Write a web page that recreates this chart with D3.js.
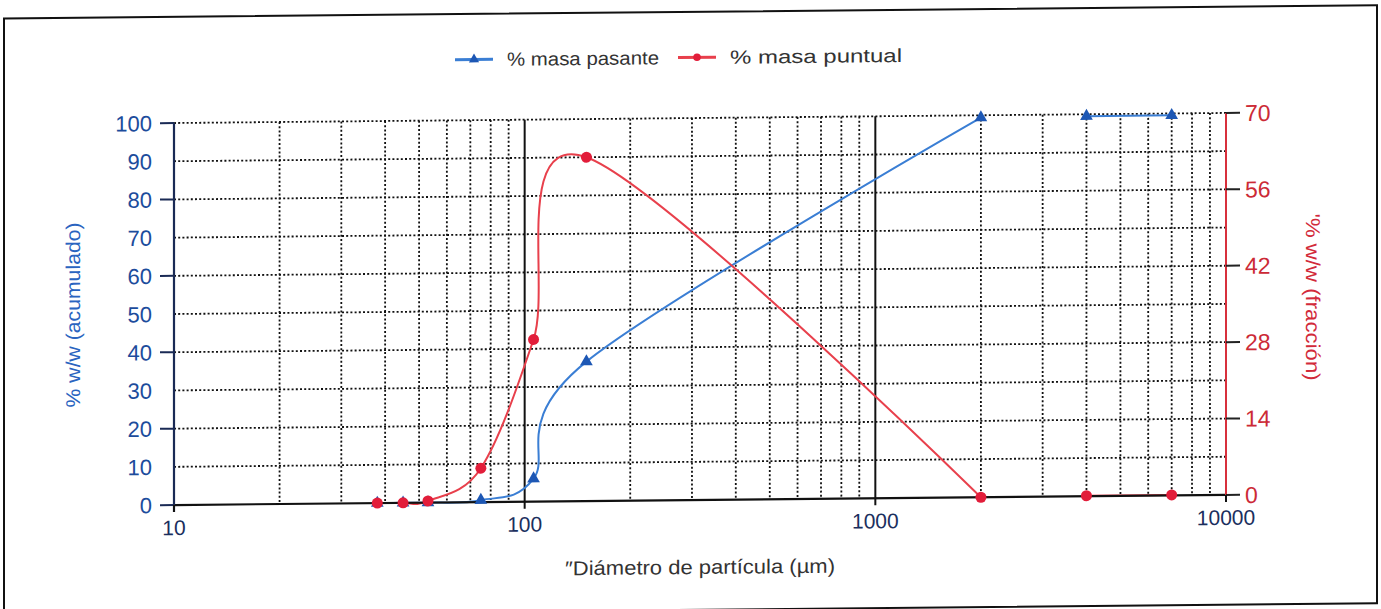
<!DOCTYPE html>
<html>
<head>
<meta charset="utf-8">
<script src="https://cdn.jsdelivr.net/npm/d3@7"></script>
<style>
  body { margin: 0; background: #fff; }
  text { font-family: "Liberation Sans", Arial, sans-serif; }
</style>
</head>
<body>
<div id="chart"></div>
<script>
// sieve sizes (µm) and the two series; null = missing sieve (gap in the lines)
var sizes   = [38, 45, 53, 75, 106, 150, 2000, 2800, 4000, 7000];
var pasante = [0, 0, 0, 0.5, 6, 36.5, 99.4, null, 99.5, 99.5];
var puntual = [0, 0, 0.3, 6.2, 29.7, 63, 0, null, 0.1, 0.1];

var leftTicks  = [0, 10, 20, 30, 40, 50, 60, 70, 80, 90, 100];
var rightTicks = [0, 14, 28, 42, 56, 70];
var xTicks     = [10, 100, 1000, 10000];
var xMinor     = [20, 30, 40, 50, 60, 70, 80, 90, 200, 300, 400, 500, 600, 700, 800, 900,
                  2000, 3000, 4000, 5000, 6000, 7000, 8000, 9000];

var svg_dx = 1381, svg_dy = 609,
    margin = {top: 124.7, left: 174, right: 155, bottom: 102.3},
    width = svg_dx - margin.left - margin.right,
    height = svg_dy - margin.top - margin.bottom;

var blueLine = "#3a7ed4", blueMark = "#1d57b4", blueText = "#1c4c9c",
    redLine = "#e8404c", redMark = "#e21d3a", redText = "#cc2a36";

var x = d3.scaleLog().domain([10, 10000]).range([0, width]);
var yL = d3.scaleLinear().domain([0, 100]).range([height, 0]);
var yR = d3.scaleLinear().domain([0, 70]).range([height, 0]);

var svg = d3.select("#chart").append("svg")
    .attr("width", svg_dx)
    .attr("height", svg_dy);

// the scan is slightly tilted
var root = svg.append("g").attr("transform", "skewY(-0.55)");

// frame
root.append("rect")
    .attr("x", 4).attr("y", 18.5)
    .attr("width", 1373).attr("height", 598)
    .attr("fill", "none").attr("stroke", "#111").attr("stroke-width", 2);

var g = root.append("g")
    .attr("transform", "translate(" + margin.left + "," + margin.top + ")");

// grid
g.selectAll(".hgrid")
    .data(leftTicks.filter(d => d > 0))
    .enter().append("line")
    .attr("x1", 0).attr("x2", width)
    .attr("y1", d => yL(d)).attr("y2", d => yL(d))
    .attr("stroke", "#111").attr("stroke-width", 1.8)
    .attr("stroke-dasharray", "2,2.2");

g.selectAll(".vgrid")
    .data(xMinor)
    .enter().append("line")
    .attr("x1", d => x(d)).attr("x2", d => x(d))
    .attr("y1", 0).attr("y2", height)
    .attr("stroke", "#111").attr("stroke-width", 1.8)
    .attr("stroke-dasharray", "2,2.2");

g.selectAll(".vmajor")
    .data([100, 1000])
    .enter().append("line")
    .attr("x1", d => x(d)).attr("x2", d => x(d))
    .attr("y1", 0).attr("y2", height + 7)
    .attr("stroke", "#111").attr("stroke-width", 2);

// series
var pts = sizes.map((s, i) => ({s: s, a: pasante[i], b: puntual[i]}));

var lineA = d3.line()
    .defined(d => d.a != null)
    .x(d => x(d.s)).y(d => yL(d.a))
    .curve(d3.curveCatmullRom.alpha(0));
var lineB = d3.line()
    .defined(d => d.b != null)
    .x(d => x(d.s)).y(d => yR(d.b))
    .curve(d3.curveCatmullRom.alpha(0));

g.append("path").datum(pts)
    .attr("d", lineA)
    .attr("fill", "none").attr("stroke", blueLine).attr("stroke-width", 2);
g.append("path").datum(pts)
    .attr("d", lineB)
    .attr("fill", "none").attr("stroke", redLine).attr("stroke-width", 2);

// axes
g.append("line").attr("x1", 0).attr("x2", width)
    .attr("y1", height).attr("y2", height)
    .attr("stroke", "#111").attr("stroke-width", 2.2);
g.append("line").attr("x1", 0).attr("x2", 0)
    .attr("y1", 0).attr("y2", height + 7)
    .attr("stroke", "#1a2a55").attr("stroke-width", 2.2);
g.append("line").attr("x1", width).attr("x2", width)
    .attr("y1", 0).attr("y2", height + 7)
    .attr("stroke", "#d8303c").attr("stroke-width", 2);

// left ticks
g.selectAll(".ltick")
    .data(leftTicks.filter(d => d % 20 == 0))
    .enter().append("line")
    .attr("x1", -14).attr("x2", 0)
    .attr("y1", d => yL(d)).attr("y2", d => yL(d))
    .attr("stroke", "#1a2a55").attr("stroke-width", 2);

g.selectAll(".llabel")
    .data(leftTicks)
    .enter().append("text")
    .attr("x", -22).attr("y", d => yL(d))
    .attr("dy", "0.36em")
    .attr("text-anchor", "end")
    .attr("fill", blueText)
    .style("font-size", "22px")
    .text(d => d);

// right ticks
g.selectAll(".rtick")
    .data(rightTicks)
    .enter().append("line")
    .attr("x1", width).attr("x2", width + 14)
    .attr("y1", d => yR(d)).attr("y2", d => yR(d))
    .attr("stroke", "#222").attr("stroke-width", 2);

g.selectAll(".rlabel")
    .data(rightTicks)
    .enter().append("text")
    .attr("x", width + 19).attr("y", d => yR(d))
    .attr("dy", "0.36em")
    .attr("fill", redText)
    .style("font-size", "23px")
    .text(d => d);

// x ticks
g.selectAll(".xtick")
    .data([10, 10000])
    .enter().append("line")
    .attr("x1", d => x(d)).attr("x2", d => x(d))
    .attr("y1", height).attr("y2", height + 7)
    .attr("stroke", "#111").attr("stroke-width", 2);

g.selectAll(".xlabel")
    .data(xTicks)
    .enter().append("text")
    .attr("x", d => x(d)).attr("y", height + 30)
    .attr("text-anchor", "middle")
    .attr("fill", "#1b2f5e")
    .style("font-size", "21px")
    .text(d => d);

// markers
g.selectAll(".mA")
    .data(pts.filter(d => d.a != null))
    .enter().append("path")
    .attr("d", d3.symbol().type(d3.symbolTriangle).size(70))
    .attr("transform", d => "translate(" + x(d.s) + "," + yL(d.a) + ")")
    .attr("fill", blueMark);

g.selectAll(".mB")
    .data(pts.filter(d => d.b != null))
    .enter().append("circle")
    .attr("cx", d => x(d.s)).attr("cy", d => yR(d.b))
    .attr("r", 5.5)
    .attr("fill", redMark);

// axis titles
g.append("text")
    .attr("transform", "rotate(-90)")
    .attr("x", -height / 2).attr("y", -94)
    .attr("text-anchor", "middle")
    .attr("fill", "#2a64c0")
    .style("font-size", "20px")
    .attr("textLength", 185).attr("lengthAdjust", "spacingAndGlyphs")
    .text("% w/w (acumulado)");

g.append("text")
    .attr("transform", "translate(" + (width + 80) + "," + (height / 2 - 6) + ") rotate(90)")
    .attr("text-anchor", "middle")
    .attr("fill", "#d22a3a")
    .style("font-size", "20px")
    .attr("textLength", 167).attr("lengthAdjust", "spacingAndGlyphs")
    .text("'% w/w (fracción)");

g.append("text")
    .attr("x", 700 - margin.left).attr("y", height + 74)
    .attr("text-anchor", "middle")
    .attr("fill", "#333")
    .style("font-size", "20px")
    .attr("textLength", 270).attr("lengthAdjust", "spacingAndGlyphs")
    .text("\u2033Diámetro de partícula (µm)");

// legend
var legend = [
  {name: "% masa pasante", color: blueLine, mark: blueMark, x0: 455, len: 152, sym: d3.symbolTriangle},
  {name: "% masa puntual", color: redLine, mark: redMark, x0: 678, len: 172, sym: d3.symbolCircle}
];
var lg = root.selectAll(".leg")
    .data(legend)
    .enter().append("g")
    .attr("transform", d => "translate(" + d.x0 + ",64)");
lg.append("line")
    .attr("x1", 0).attr("x2", 38)
    .attr("stroke", d => d.color).attr("stroke-width", 3);
lg.append("path")
    .attr("d", d => d3.symbol().type(d.sym).size(45)())
    .attr("transform", "translate(19,0)")
    .attr("fill", d => d.mark);
lg.append("text")
    .attr("x", 52).attr("dy", "0.35em")
    .attr("fill", "#333")
    .style("font-size", "19px")
    .attr("textLength", d => d.len).attr("lengthAdjust", "spacingAndGlyphs")
    .text(d => d.name);
</script>
</body>
</html>
